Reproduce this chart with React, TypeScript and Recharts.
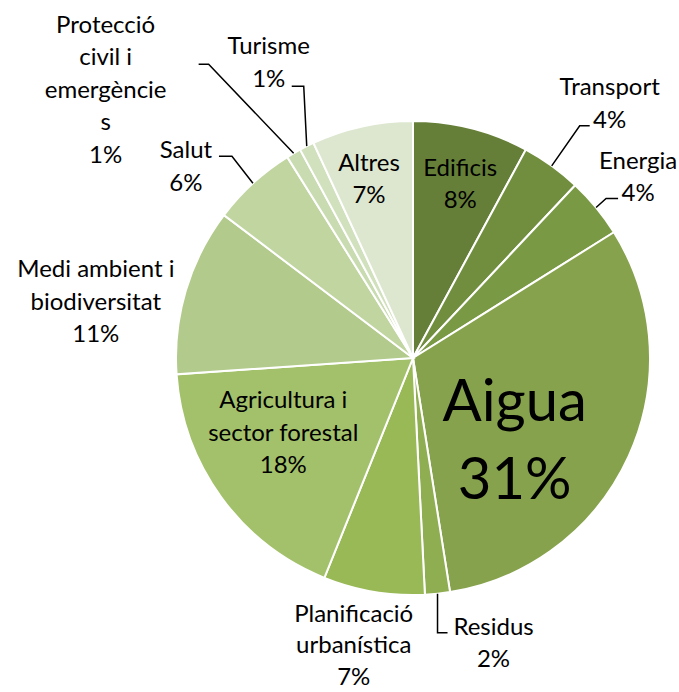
import React from "react";
import {Cell, Pie, PieChart} from "recharts";

// sectors and their share (%)
const categories = [
    'Edificis', 'Transport', 'Energia', 'Aigua', 'Residus', 'Planificació urbanística',
    'Agricultura i sector forestal', 'Medi ambient i biodiversitat', 'Salut',
    'Protecció civil i emergències', 'Turisme', 'Altres'
];
const shares = [7.9, 4.1, 4.1, 31.4, 1.7, 6.9, 17.8, 11.4, 5.8, 1.0, 1.0, 6.9];

// how each label is wrapped in the original
const labelLines = [
    ['Edificis'], ['Transport'], ['Energia'], ['Aigua'], ['Residus'],
    ['Planificació', 'urbanística'], ['Agricultura i', 'sector forestal'],
    ['Medi ambient i', 'biodiversitat'], ['Salut'],
    ['Protecció', 'civil i', 'emergèncie', 's'], ['Turisme'], ['Altres']
];

const COLORS = [
    '#667f38', '#718e3e', '#7a9944', '#86a24c', '#8fad51', '#99b957',
    '#a3c16a', '#b2ca8b', '#c1d5a1', '#c9dbb0', '#d2e1bd', '#dde7cf'
];

const data = categories.map((name, i) => ({name, value: shares[i]}));

// label placement relative to the slice's outer edge point (dx, dy = block centre)
// leader: elbow and end relative to the same edge point
interface Place {
    dx: number;
    dy: number;
    size?: number;
    lh?: number;
    leader?: [number, number, number, number];
}

const PLACES: Place[] = [
    {dx: -11, dy: 54},
    {dx: 58, dy: -64, leader: [28, -40, 38, -40]},
    {dx: 42, dy: -32, leader: [10, -9, 22, -9]},
    {dx: -114, dy: -19, size: 58, lh: 78},
    {dx: 56, dy: 48, leader: [0, 39, 10, 39]},
    {dx: -20, dy: 52, lh: 31.5},
    {dx: 62, dy: -66},
    {dx: -90, dy: 10},
    {dx: -67, dy: -18, leader: [-21, -27, -34, -27]},
    {dx: -188, dy: -65, leader: [-85, -89, -95, -89]},
    {dx: -38, dy: -85, leader: [-3, -60, -15, -60]},
    {dx: 7, dy: 51},
];

const RADIAN = Math.PI / 180;

const renderLabel = (props: any) => {
    const {cx, cy, midAngle, outerRadius, index, percent} = props;
    const ex = cx + outerRadius * Math.cos(-midAngle * RADIAN);
    const ey = cy + outerRadius * Math.sin(-midAngle * RADIAN);
    const place = PLACES[index];
    const lines = [...labelLines[index], `${Math.round(percent * 100)}%`];
    const size = place.size ?? 24;
    const lh = place.lh ?? 32.5;
    const bx = ex + place.dx;
    const by = ey + place.dy;
    return (
        <g key={`lbl-${index}`}>
            {place.leader && (
                <polyline
                    points={`${ex},${ey} ${ex + place.leader[0]},${ey + place.leader[1]} ${ex + place.leader[2]},${ey + place.leader[3]}`}
                    fill="none" stroke="#000" strokeWidth={1.5}
                />
            )}
            {lines.map((t, i) => (
                <text key={i} x={bx} y={by + (i - (lines.length - 1) / 2) * lh}
                      textAnchor="middle" dominantBaseline="central"
                      fontFamily="Lato, sans-serif" fontSize={size} fill="#000">
                    {t}
                </text>
            ))}
        </g>
    );
};

const App: React.FC = () => {
    return (
        <div style={{position: 'absolute', left: 0, top: 0, width: 679, height: 692, background: '#fff'}}>
            <PieChart width={679} height={692} margin={{top: 0, right: 0, bottom: 0, left: 0}}>
                <Pie
                    data={data}
                    dataKey="value"
                    cx={413}
                    cy={358}
                    outerRadius={237}
                    startAngle={90}
                    endAngle={-270}
                    stroke="#fff"
                    strokeWidth={2}
                    labelLine={false}
                    label={renderLabel}
                    isAnimationActive={false}
                >
                    {data.map((entry, index) => (
                        <Cell key={`cell-${index}`} fill={COLORS[index % COLORS.length]}/>
                    ))}
                </Pie>
            </PieChart>
        </div>
    );
};

export default App;
